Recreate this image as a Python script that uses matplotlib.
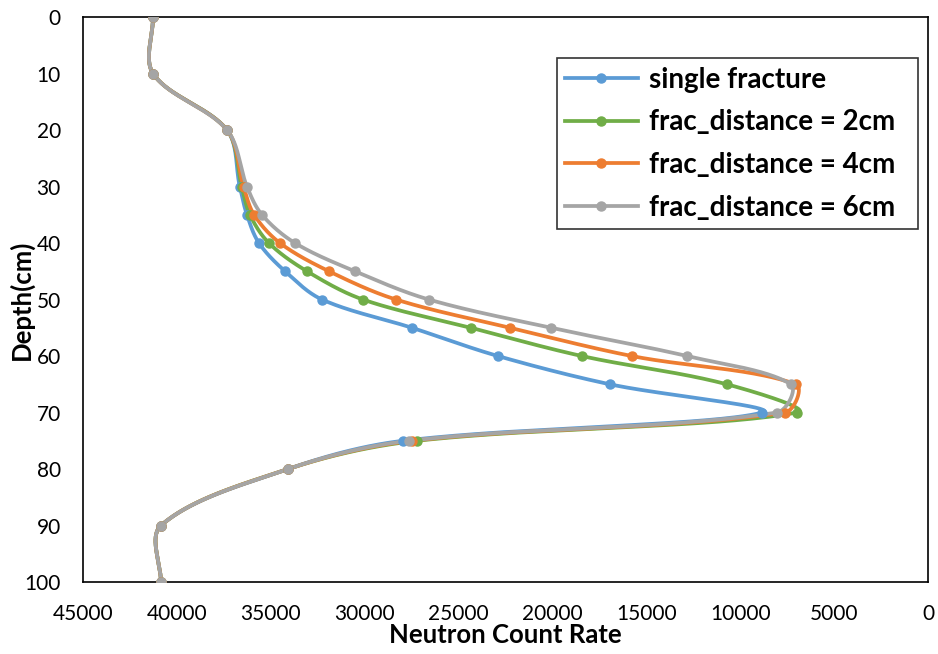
import numpy as np
import matplotlib
matplotlib.use('Agg')
import matplotlib.pyplot as plt
from matplotlib.lines import Line2D

plt.rcParams['font.family'] = ['Lato', 'DejaVu Sans']

## depth of each sample point (cm)
depth = [0, 10, 20, 30, 35, 40, 45, 50, 55, 60, 65, 70, 75, 80, 90, 100]

## neutron count rate
single_fracture = [41270, 41270, 37330, 36650, 36270, 35630, 34240, 32270, 27480, 22900, 16940, 8840, 27960, 34080, 40850, 40850]
frac_2cm = [41270, 41270, 37330, 36550, 36110, 35100, 33070, 30090, 24340, 18430, 10710, 6980, 27220, 34080, 40850, 40850]
frac_4cm = [41270, 41270, 37330, 36450, 35890, 34510, 31900, 28330, 22260, 15770, 7030, 7620, 27480, 34080, 40850, 40850]
frac_6cm = [41270, 41270, 37330, 36270, 35470, 33710, 30520, 26580, 20080, 12840, 7300, 8040, 27640, 34080, 40850, 40850]

labels = ['single fracture', 'frac_distance = 2cm', 'frac_distance = 4cm', 'frac_distance = 6cm']
colors = ['#5B9BD5', '#70AD47', '#ED7D31', '#A5A5A5']
series = [single_fracture, frac_2cm, frac_4cm, frac_6cm]


def smooth(ax, xs, ys, n=60):
    """excel-like smoothed line, worked out in screen space:
    bezier segments, handles weighted by the neighbouring chord lengths"""
    p = ax.transData.transform(np.column_stack([xs, ys]).astype(float))
    ext = np.vstack([p[0], p, p[-1]])
    d = np.linalg.norm(np.diff(ext, axis=0), axis=1)   # chord lengths, padded
    t = np.linspace(0, 1, n)[:, None]
    out = []
    for i in range(len(p) - 1):
        p0, p3 = p[i], p[i + 1]
        # handle leaving p0
        T0 = ext[i + 2] - ext[i]
        s0 = d[i] + d[i + 1]
        c1 = p0 + T0 * (d[i + 1] / s0) / 3.0 if s0 > 0 else p0
        # handle entering p3
        T1 = ext[i + 3] - ext[i + 1]
        s1 = d[i + 1] + d[i + 2]
        c2 = p3 - T1 * (d[i + 1] / s1) / 3.0 if s1 > 0 else p3
        seg = ((1 - t) ** 3) * p0 + 3 * ((1 - t) ** 2) * t * c1 + 3 * (1 - t) * t ** 2 * c2 + t ** 3 * p3
        out.append(seg if i == 0 else seg[1:])
    out = ax.transData.inverted().transform(np.vstack(out))
    return out[:, 0], out[:, 1]


fig = plt.figure(figsize=(9.38, 6.54), dpi=100)
ax = fig.add_axes([0.0885, 0.110, 0.9008, 0.864])
ax.set_xlim(45000, 0)
ax.set_ylim(100, 0)

for vals, col in zip(series, colors):
    sx, sy = smooth(ax, vals, depth)
    ax.plot(sx, sy, color=col, lw=2.7, solid_capstyle='round', zorder=2)
    ax.plot(vals, depth, 'o', color=col, ms=6.5, zorder=3)

ax.set_xlim(45000, 0)
ax.set_ylim(100, 0)
ax.set_xticks(np.arange(45000, -1, -5000))
ax.set_yticks(np.arange(0, 101, 10))
ax.tick_params(length=0, labelsize=15)
ax.tick_params(axis='x', pad=16)
ax.tick_params(axis='y', pad=16)
for s in ax.spines.values():
    s.set_linewidth(1.2)
    s.set_color('black')

ax.set_xlabel('Neutron Count Rate', fontsize=18.5, fontweight='bold')
ax.set_ylabel('Depth(cm)', fontsize=18.5, fontweight='bold')
ax.xaxis.set_label_coords(0.5, -0.073)
ax.yaxis.set_label_coords(-0.058, 0.5)

handles = [Line2D([0], [0], color=c, lw=2.7, marker='o', ms=6.5) for c in colors]
leg = ax.legend(handles, labels, loc='upper left', mode='expand',
                bbox_to_anchor=(0.561, 0.628, 0.427, 0.299),
                fontsize=20, frameon=True, fancybox=False, edgecolor='black',
                handlelength=2.6, handletextpad=0.4, labelspacing=0.6,
                borderpad=0.3, borderaxespad=0)
leg.get_frame().set_linewidth(1.2)
for txt in leg.get_texts():
    txt.set_fontweight('bold')

fig.savefig('out.png', dpi=100)
